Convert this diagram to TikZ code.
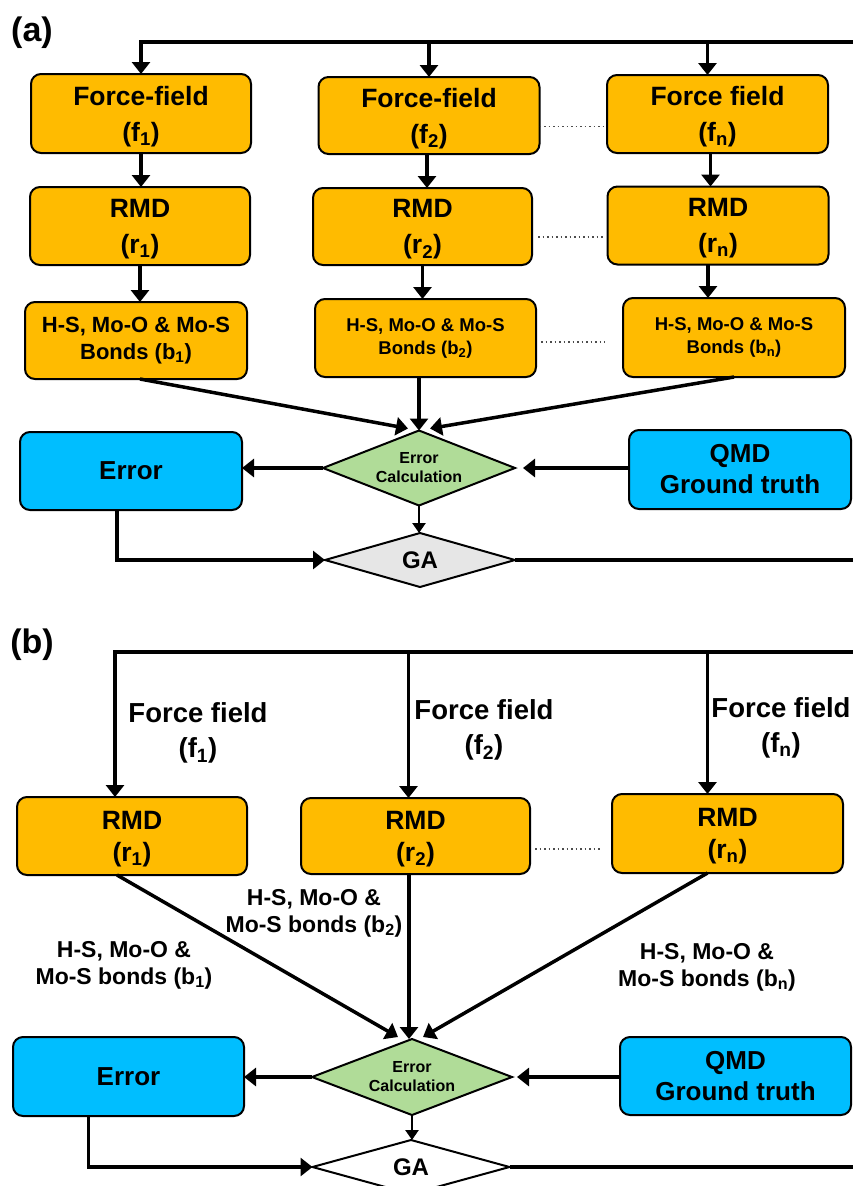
\documentclass[tikz,border=0pt]{standalone}
\usepackage{fontspec}
\setmainfont{Liberation Sans}
\usepackage{tikz}
\usetikzlibrary{arrows.meta,shapes.geometric}

\definecolor{boxorange}{RGB}{255,187,0}
\definecolor{boxblue}{RGB}{0,190,255}
\definecolor{calcgreen}{RGB}{176,220,152}
\definecolor{gagray}{RGB}{230,230,230}

\begin{document}
\begin{tikzpicture}[x=1pt, y=-1pt,
    stagebox/.style={draw, line width=2pt, rounded corners=10pt, align=center, inner sep=0pt, outer sep=0pt, minimum width=221pt, minimum height=78pt},
    ffbox/.style={stagebox, fill=boxorange, text depth=0pt, font=\bfseries\fontsize{26.5}{36}\selectfont},
    bondbox/.style={stagebox, fill=boxorange, font=\bfseries\fontsize{18.5}{23}\selectfont},
    truthbox/.style={stagebox, fill=boxblue, font=\bfseries\fontsize{26}{31}\selectfont},
    errcalc/.style={draw, diamond, aspect=2.56, line width=2pt, fill=calcgreen, inner sep=0pt, outer sep=0pt, minimum width=192pt, minimum height=75pt, align=center, font=\bfseries\fontsize{16}{19}\selectfont},
    gadiamond/.style={draw, diamond, aspect=3.5, line width=2pt, inner sep=0pt, outer sep=0pt, minimum width=190pt, minimum height=54pt, font=\bfseries\fontsize{24}{28}\selectfont},
    paneltag/.style={font=\bfseries\fontsize{34}{40}\selectfont},
    fflabel/.style={align=center, font=\bfseries\fontsize{27.5}{35}\selectfont},
    bondlabel/.style={align=center, font=\bfseries\fontsize{23}{27}\selectfont},
    arrow/.style={line width=3.5pt, -{Triangle[length=12pt,width=18pt]}},
    smallarrow/.style={line width=2.5pt, -{Triangle[length=10pt,width=13pt]}},
    dots/.style={line width=1.5pt, dash pattern=on 1.5pt off 3pt, black!70}
  ]
    \useasboundingbox (0,0) rectangle (853,1186);
    \clip (0,0) rectangle (853,1186);

    % (a) three force fields in full boxes
    \node[paneltag] (laba) at (32,33) {(a)};
    \node[ffbox, minimum width=220pt, minimum height=79pt] (fa1) at (141,113.5) {Force-field\\(f\textsubscript{1})};
    \node[ffbox, minimum height=77pt] (fa2) at (429,115.5) {Force-field\\(f\textsubscript{2})};
    \node[ffbox] (fan) at (717.5,114) {Force field\\(f\textsubscript{n})};
    \node[ffbox, minimum width=220pt] (ra1) at (140,226) {RMD\\(r\textsubscript{1})};
    \node[ffbox, minimum width=219pt, minimum height=77pt] (ra2) at (422.5,226.5) {RMD\\(r\textsubscript{2})};
    \node[ffbox] (ran) at (718,225.5) {RMD\\(r\textsubscript{n})};
    \node[bondbox, minimum width=222pt, minimum height=77pt, font=\bfseries\fontsize{22}{27}\selectfont] (ba1) at (136,340.5) {H-S, Mo-O \& Mo-S\\Bonds (b\textsubscript{1})};
    \node[bondbox] (ba2) at (425.5,338) {H-S, Mo-O \& Mo-S\\Bonds (b\textsubscript{2})};
    \node[bondbox, minimum width=222pt, minimum height=79pt] (ban) at (734,337.5) {H-S, Mo-O \& Mo-S\\Bonds (b\textsubscript{n})};
    \node[truthbox, minimum width=222pt] (erra) at (131,471) {Error};
    \node[truthbox, minimum width=222pt, minimum height=79pt] (qmda) at (740,469.5) {QMD\\Ground truth};
    \node[errcalc] (eca) at (419,468) {Error\\Calculation};
    \node[gadiamond, fill=gagray] (gaa) at (420,560) {GA};
    \coordinate (loopa) at (875,42);

    \draw[arrow] (gaa.east) -| (loopa) -| (fa1.north);
    \draw[arrow] (fa2.north |- loopa) -- (fa2.north);
    \draw[arrow] ([xshift=-10pt]fan.north |- loopa) -- ([xshift=-10pt]fan.north);
    \draw[arrow] (fa1.south) -- (fa1.south |- ra1.north);
    \draw[arrow] ([xshift=-2pt]fa2.south) -- ([xshift=-2pt]fa2.south |- ra2.north);
    \draw[arrow] ([xshift=-7pt]fan.south) -- ([xshift=-7pt]fan.south |- ran.north);
    \draw[arrow] (ra1.south) -- (ra1.south |- ba1.north);
    \draw[arrow] (ra2.south) -- (ra2.south |- ba2.north);
    \draw[arrow] ([xshift=-10pt]ran.south) -- ([xshift=-10pt]ran.south |- ban.north);
    \draw[dots] ([yshift=-11pt]fa2.east) -- ([yshift=-11pt]fa2.east -| fan.west);
    \draw[dots, shorten <=6pt, shorten >=4pt] ([yshift=-10.5pt]ra2.east) -- ([yshift=-10.5pt]ra2.east -| ran.west);
    \draw[dots, shorten <=5pt, shorten >=18pt] ([yshift=-4pt]ba2.east) -- ([yshift=-4pt]ba2.east -| ban.west);
    \draw[arrow] ([xshift=4pt]ba1.south) -- ([xshift=-11pt,yshift=2pt]eca.north);
    \draw[arrow] (eca.north |- ba2.south) -- (eca.north);
    \draw[arrow] (ban.south) -- ([xshift=11pt,yshift=2pt]eca.north);
    \draw[arrow] (eca.west) -- (eca.west -| erra.east);
    \draw[arrow] (eca.east -| qmda.west) -- ([xshift=8pt]eca.east);
    \draw[smallarrow] (eca.south) -- (eca.south |- gaa.north);
    \draw[arrow] ([xshift=-14pt]erra.south) |- (gaa.west);

    % (b) force fields given on the arrows
    \node[paneltag] (labb) at (32,645) {(b)};
    \node[ffbox, minimum width=230pt, font=\bfseries\fontsize{26.5}{32}\selectfont] (rb1) at (132,836) {RMD\\(r\textsubscript{1})};
    \node[ffbox, minimum width=229pt, minimum height=76pt, font=\bfseries\fontsize{26.5}{32}\selectfont] (rb2) at (415.5,836) {RMD\\(r\textsubscript{2})};
    \node[ffbox, minimum width=231pt, minimum height=79pt, font=\bfseries\fontsize{26.5}{32}\selectfont] (rbn) at (727.5,833.5) {RMD\\(r\textsubscript{n})};
    \node[fflabel] (ffb1) at (198,733) {Force field\\(f\textsubscript{1})};
    \node[fflabel] (ffb2) at (484,730) {Force field\\(f\textsubscript{2})};
    \node[fflabel] (ffbn) at (781,728) {Force field\\(f\textsubscript{n})};
    \node[bondlabel] (bdb1) at (124,965) {H-S, Mo-O \&\\Mo-S bonds (b\textsubscript{1})};
    \node[bondlabel] (bdb2) at (314,913) {H-S, Mo-O \&\\Mo-S bonds (b\textsubscript{2})};
    \node[bondlabel] (bdbn) at (707,967) {H-S, Mo-O \&\\Mo-S bonds (b\textsubscript{n})};
    \node[truthbox, minimum width=231pt, minimum height=79pt] (errb) at (128.5,1076.5) {Error};
    \node[truthbox, minimum width=231pt] (qmdb) at (735.5,1076) {QMD\\Ground truth};
    \node[errcalc, minimum width=200pt, minimum height=76pt, aspect=2.63] (ecb) at (412,1077) {Error\\Calculation};
    \node[gadiamond, fill=white, minimum width=197pt, aspect=3.65] (gab) at (411,1167) {GA};
    \coordinate (loopb) at (875,652);

    \draw[arrow] (gab.east) -| (loopb) -| ([xshift=-17pt]rb1.north);
    \draw[arrow] ([xshift=-7pt]rb2.north |- loopb) -- ([xshift=-7pt]rb2.north);
    \draw[arrow] ([xshift=-20pt]rbn.north |- loopb) -- ([xshift=-20pt]rbn.north);
    \draw[dots, shorten <=5pt, shorten >=10pt] ([yshift=-13pt]rb2.east) -- ([yshift=-13pt]rb2.east -| rbn.west);
    \draw[arrow] ([xshift=-15pt]rb1.south) -- ([xshift=-14pt,yshift=2pt]ecb.north);
    \draw[arrow] ([xshift=-3pt]ecb.north |- rb2.south) -- ([xshift=-3pt]ecb.north);
    \draw[arrow] ([xshift=-20pt]rbn.south) -- ([xshift=11pt,yshift=2pt]ecb.north);
    \draw[arrow] (ecb.west) -- (ecb.west -| errb.east);
    \draw[arrow] (ecb.east -| qmdb.west) -- ([xshift=5pt]ecb.east);
    \draw[smallarrow] (ecb.south) -- (ecb.south |- gab.north);
    \draw[arrow] ([xshift=-40pt]errb.south) |- (gab.west);
\end{tikzpicture}
\end{document}
